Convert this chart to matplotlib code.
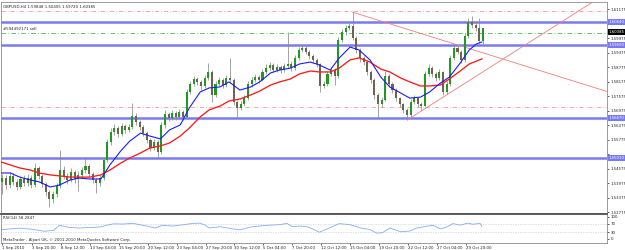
import matplotlib
matplotlib.use("Agg")
import matplotlib.pyplot as plt
from matplotlib.transforms import blended_transform_factory
import numpy as np

# ---------------- data (GBPUSD H4, drawn as 2-bar candles) ----------------
open_ = [1.5402, 1.5418, 1.5389, 1.5427, 1.5402, 1.5381, 1.5414, 1.5398, 1.5418, 1.5389,
         1.5460, 1.5427, 1.5393, 1.5360, 1.5331, 1.5352, 1.5385, 1.5451, 1.5427, 1.5410,
         1.5443, 1.5414, 1.5431, 1.5451, 1.5468, 1.5435, 1.5410, 1.5398, 1.5418, 1.5493,
         1.5567, 1.5609, 1.5625, 1.5600, 1.5633, 1.5617, 1.5629, 1.5675, 1.5650, 1.5629,
         1.5604, 1.5576, 1.5542, 1.5567, 1.5526, 1.5638, 1.5683, 1.5667, 1.5687, 1.5671,
         1.5691, 1.5671, 1.5774, 1.5807, 1.5828, 1.5816, 1.5799, 1.5832, 1.5857, 1.5762,
         1.5807, 1.5824, 1.5803, 1.5832, 1.5824, 1.5733, 1.5708, 1.5724, 1.5749, 1.5807,
         1.5824, 1.5836, 1.5824, 1.5857, 1.5873, 1.5886, 1.5865, 1.5878, 1.5865, 1.5882,
         1.5890, 1.5873, 1.5915, 1.5948, 1.5956, 1.5940, 1.5923, 1.5907, 1.5890, 1.5799,
         1.5807, 1.5849, 1.5865, 1.5840, 1.5989, 1.6022, 1.6039, 1.6047, 1.5998, 1.5948,
         1.5915, 1.5898, 1.5857, 1.5824, 1.5762, 1.5724, 1.5741, 1.5840, 1.5807, 1.5782,
         1.5749, 1.5724, 1.5700, 1.5679, 1.5733, 1.5749, 1.5724, 1.5716, 1.5849, 1.5873,
         1.5849, 1.5832, 1.5857, 1.5774, 1.5807, 1.5915, 1.5956, 1.5940, 1.5907, 1.6006,
         1.6064, 1.6051, 1.6039, 1.59848]
high_ = [1.5436, 1.5431, 1.5445, 1.5440, 1.5415, 1.5428, 1.5431, 1.5433, 1.5430, 1.5479,
         1.5468, 1.5436, 1.5402, 1.5368, 1.5364, 1.5397, 1.5534, 1.5466, 1.5440, 1.5458,
         1.5452, 1.5446, 1.5464, 1.5501, 1.5475, 1.5443, 1.5418, 1.5431, 1.5505, 1.5580,
         1.5625, 1.5640, 1.5634, 1.5646, 1.5642, 1.5640, 1.5729, 1.5688, 1.5660, 1.5638,
         1.5612, 1.5585, 1.5580, 1.5575, 1.5650, 1.5698, 1.5692, 1.5700, 1.5695, 1.5705,
         1.5698, 1.5788, 1.5820, 1.5842, 1.5836, 1.5822, 1.5845, 1.5894, 1.5864, 1.5818,
         1.5836, 1.5830, 1.5845, 1.5915, 1.5830, 1.5740, 1.5738, 1.5762, 1.5820, 1.5836,
         1.5850, 1.5845, 1.5870, 1.5888, 1.5900, 1.5893, 1.5890, 1.5886, 1.5895, 1.6022,
         1.5902, 1.5928, 1.5960, 1.5970, 1.5965, 1.5948, 1.5930, 1.5915, 1.5896, 1.5820,
         1.5862, 1.5878, 1.5872, 1.6000, 1.6035, 1.6052, 1.6060, 1.6105, 1.6005, 1.5955,
         1.5925, 1.5905, 1.5865, 1.5830, 1.5770, 1.5752, 1.5862, 1.5850, 1.5815, 1.5790,
         1.5755, 1.5730, 1.5706, 1.5745, 1.5762, 1.5755, 1.5732, 1.5862, 1.5890, 1.5880,
         1.5858, 1.5868, 1.5862, 1.5820, 1.5928, 1.5970, 1.5965, 1.5948, 1.6018, 1.6080,
         1.6088, 1.6068, 1.6080, 1.60405]
low_ = [1.5352, 1.5372, 1.5378, 1.5390, 1.5368, 1.5372, 1.5384, 1.5386, 1.5376, 1.5383,
        1.5416, 1.5380, 1.5344, 1.5299, 1.5314, 1.5340, 1.5378, 1.5414, 1.5395, 1.5402,
        1.5398, 1.5365, 1.5420, 1.5440, 1.5424, 1.5396, 1.5356, 1.5385, 1.5410, 1.5484,
        1.5555, 1.5598, 1.5588, 1.5592, 1.5605, 1.5608, 1.5620, 1.5638, 1.5617, 1.5590,
        1.5562, 1.5530, 1.5535, 1.5505, 1.5518, 1.5625, 1.5655, 1.5660, 1.5658, 1.5663,
        1.5660, 1.5665, 1.5765, 1.5798, 1.5804, 1.5784, 1.5792, 1.5825, 1.5733, 1.5752,
        1.5798, 1.5790, 1.5796, 1.5815, 1.5720, 1.5671, 1.5700, 1.5716, 1.5742, 1.5795,
        1.5815, 1.5812, 1.5818, 1.5848, 1.5866, 1.5855, 1.5858, 1.5852, 1.5858, 1.5872,
        1.5860, 1.5866, 1.5908, 1.5940, 1.5930, 1.5912, 1.5895, 1.5878, 1.5775, 1.5790,
        1.5800, 1.5840, 1.5805, 1.5832, 1.5980, 1.6010, 1.6030, 1.5990, 1.5935, 1.5900,
        1.5885, 1.5845, 1.5810, 1.5745, 1.5667, 1.5712, 1.5735, 1.5795, 1.5770, 1.5738,
        1.5712, 1.5688, 1.5658, 1.5672, 1.5725, 1.5712, 1.5700, 1.5710, 1.5840, 1.5838,
        1.5820, 1.5825, 1.5760, 1.5765, 1.5800, 1.5905, 1.5930, 1.5894, 1.5900, 1.5998,
        1.6040, 1.6028, 1.5975, 1.59720]
close_ = [1.5418, 1.5389, 1.5427, 1.5402, 1.5381, 1.5414, 1.5398, 1.5418, 1.5389, 1.5460,
          1.5427, 1.5393, 1.5360, 1.5331, 1.5352, 1.5385, 1.5451, 1.5427, 1.5410, 1.5443,
          1.5414, 1.5431, 1.5451, 1.5468, 1.5435, 1.5410, 1.5398, 1.5418, 1.5493, 1.5567,
          1.5609, 1.5625, 1.5600, 1.5633, 1.5617, 1.5629, 1.5675, 1.5650, 1.5629, 1.5604,
          1.5576, 1.5542, 1.5567, 1.5526, 1.5638, 1.5683, 1.5667, 1.5687, 1.5671, 1.5691,
          1.5671, 1.5774, 1.5807, 1.5828, 1.5816, 1.5799, 1.5832, 1.5857, 1.5762, 1.5807,
          1.5824, 1.5803, 1.5832, 1.5824, 1.5733, 1.5708, 1.5724, 1.5749, 1.5807, 1.5824,
          1.5836, 1.5824, 1.5857, 1.5873, 1.5886, 1.5865, 1.5878, 1.5865, 1.5882, 1.5890,
          1.5873, 1.5915, 1.5948, 1.5956, 1.5940, 1.5923, 1.5907, 1.5890, 1.5799, 1.5807,
          1.5849, 1.5865, 1.5840, 1.5989, 1.6022, 1.6039, 1.6047, 1.5998, 1.5948, 1.5915,
          1.5898, 1.5857, 1.5824, 1.5762, 1.5724, 1.5741, 1.5840, 1.5807, 1.5782, 1.5749,
          1.5724, 1.5700, 1.5679, 1.5733, 1.5749, 1.5724, 1.5716, 1.5849, 1.5873, 1.5849,
          1.5832, 1.5857, 1.5774, 1.5807, 1.5915, 1.5956, 1.5940, 1.5907, 1.6006, 1.6064,
          1.6051, 1.6039, 1.5985, 1.60385]

# moving averages (H4 bar index -> price)
ma_idx = [0, 5, 10, 16, 21, 27, 32, 38, 43, 49, 55, 60, 66, 71, 77, 82, 88, 93, 99, 104,
          110, 115, 121, 126, 132, 138, 143, 149, 154, 160, 165, 171, 176, 182, 187, 193, 198,
          204, 210, 215, 221, 226, 232, 237, 243, 248, 254, 259, 263, 266]
ma_fast = [1.5439, 1.5439, 1.5422, 1.5410, 1.5402, 1.5381, 1.5389, 1.5410, 1.5418, 1.5414,
           1.5414, 1.5472, 1.5530, 1.5571, 1.5604, 1.5592, 1.5580, 1.5617, 1.5638, 1.5708,
           1.5774, 1.5791, 1.5795, 1.5816, 1.5782, 1.5795, 1.5816, 1.5853, 1.5865, 1.5873,
           1.5890, 1.5898, 1.5886, 1.5865, 1.5915, 1.5960, 1.5948, 1.5907, 1.5836, 1.5795,
           1.5770, 1.5749, 1.5753, 1.5774, 1.5811, 1.5836, 1.5894, 1.5948, 1.5973, 1.5981]
ma_slow = [1.5484, 1.5472, 1.5460, 1.5451, 1.5439, 1.5431, 1.5427, 1.5422, 1.5422, 1.5422,
           1.5431, 1.5451, 1.5480, 1.5501, 1.5522, 1.5542, 1.5551, 1.5563, 1.5592, 1.5625,
           1.5671, 1.5700, 1.5716, 1.5737, 1.5745, 1.5762, 1.5778, 1.5803, 1.5816, 1.5828,
           1.5849, 1.5861, 1.5857, 1.5857, 1.5873, 1.5907, 1.5915, 1.5898, 1.5869, 1.5857,
           1.5832, 1.5816, 1.5799, 1.5799, 1.5803, 1.5828, 1.5861, 1.5890, 1.5902, 1.5911]

# RSI(14)
rsi_idx = [0, 5, 10, 16, 24, 29, 32, 38, 43, 49, 55, 58, 62, 67, 73, 77, 81, 85, 89, 95,
           100, 106, 110, 113, 115, 121, 128, 132, 139, 147, 154, 158, 161, 165, 169, 171,
           176, 182, 187, 193, 199, 204, 208, 211, 215, 221, 226, 230, 236, 239, 243, 247,
           250, 254, 258, 261, 265, 266]
rsi_val = [42, 46, 49, 45, 35, 40, 62, 52, 50, 52, 55, 62, 69, 68, 71, 64, 58, 50, 62, 59,
           64, 71, 72, 62, 50, 56, 46, 42, 56, 62, 65, 71, 56, 59, 56, 50, 31, 52, 70, 65,
           50, 43, 26, 29, 50, 33, 36, 50, 59, 62, 46, 56, 70, 63, 72, 67, 71, 58]

# objects on chart
hlines_blue = [1.6064, 1.5969, 1.5667, 1.5501]
hlines_red = [1.6109, 1.5712]
order_price = 1.6020
current_price = 1.6023
trend_down = [(194.1, 1.6105), (320.3, 1.5811)]
trend_up = [(225.0, 1.5660), (320.3, 1.6113)]

price_ticks = [1.52775, 1.53375, 1.53975, 1.54575, 1.55175, 1.55775, 1.56375, 1.56975,
               1.57575, 1.58175, 1.58775, 1.59375, 1.59975, 1.60575, 1.61175]
time_idx = [0, 17, 33, 49, 65, 81, 97, 113, 129, 145, 161, 177, 193, 209, 225, 241, 257]
time_labels = ["1 Sep 2010", "3 Sep 20:00", "8 Sep 12:00", "13 Sep 04:00", "15 Sep 20:00",
               "20 Sep 12:00", "23 Sep 04:00", "27 Sep 20:00", "30 Sep 12:00", "5 Oct 04:00",
               "7 Oct 20:00", "12 Oct 12:00", "15 Oct 04:00", "19 Oct 20:00", "22 Oct 12:00",
               "27 Oct 04:00", "29 Oct 20:00"]
header = "GBPUSD,H4 1.59848 1.60405 1.59720 1.60385"

# ---------------- drawing ----------------
W, H = 625, 250
fig = plt.figure(figsize=(W / 100, H / 100), dpi=100)
fig.patch.set_facecolor("white")
FS = 2.8


def px_axes(x0, y0, x1, y1):
    return fig.add_axes([x0 / W, 1 - y1 / H, (x1 - x0) / W, (y1 - y0) / H])


ax = px_axes(1, 2, 607, 213)
rax = px_axes(1, 214, 607, 243)
xmin, xmax = (1 - 1.5) / 1.806, (607 - 1.5) / 1.806
for a in (ax, rax):
    a.set_xlim(xmin, xmax)
    a.set_facecolor("white")
    for s in a.spines.values():
        s.set_color("#8c8c8c")
        s.set_linewidth(0.6)
ax.set_ylim(1.52734, 1.61465)
rax.set_ylim(-18.2, 113.6)
rax.spines["top"].set_color("#505050")
rax.spines["top"].set_linewidth(1.3)

o = np.array(open_); h = np.array(high_); l = np.array(low_); c = np.array(close_)
x = np.arange(len(o)) * 2 + 0.5
bull = c >= o
ax.vlines(x, l, h, color="#8a8a8a", lw=0.55, zorder=3)
body_lo = np.minimum(o, c)
body_h = np.maximum(np.abs(c - o), 0.00015)
ax.bar(x[bull], body_h[bull], bottom=body_lo[bull], width=1.15, color="#1f9a1f", lw=0, zorder=4)
ax.bar(x[~bull], body_h[~bull], bottom=body_lo[~bull], width=1.15, color="#6e6350", lw=0, zorder=4)

ax.plot(ma_idx, ma_slow, color="#ff1a1a", lw=0.95, zorder=5)
ax.plot(ma_idx, ma_fast, color="#1a1aff", lw=0.8, zorder=5)

for lv in hlines_blue:
    ax.axhline(lv, color="#7a7af0", lw=1.8, zorder=2)
for lv in hlines_red:
    ax.axhline(lv, color="#f08a8a", lw=0.5, ls=(0, (6, 3, 1, 3)), zorder=2)
ax.axhline(order_price, color="#3cb43c", lw=0.55, ls=(0, (6, 3, 1, 3)), zorder=2)

for (i1, p1), (i2, p2) in (trend_down, trend_up):
    p_end = p1 + (p2 - p1) * (xmax + 5 - i1) / (i2 - i1)
    ax.plot([i1, xmax + 5], [p1, p_end], color="#f07f7f", lw=0.6, zorder=2)

# price scale: hide grid labels that sit under an object's price label
marked = hlines_blue + [current_price]
px_per_price = 211 / (1.61465 - 1.52734)
tick_txt = []
for v in price_ticks:
    near = min(abs(v - m) for m in marked) * px_per_price
    tick_txt.append("" if near < 5 else f"{v:.5f}")
ax.set_xticks([])
ax.yaxis.tick_right()
ax.set_yticks(price_ticks)
ax.set_yticklabels(tick_txt, fontsize=FS)
ax.tick_params(axis="y", length=1.5, width=0.5, pad=1, colors="#222222")

tr = blended_transform_factory(ax.transAxes, ax.transData)
for lv in hlines_blue:
    ax.text(1.003, lv, f"{lv:.5f}", transform=tr, fontsize=FS, color="white", va="center",
            ha="left", bbox=dict(boxstyle="square,pad=0.25", fc="#7a7af0", ec="none"), zorder=6,
            clip_on=False)
ax.text(1.003, current_price, "1.60385", transform=tr, fontsize=FS, color="white", va="center",
        ha="left", bbox=dict(boxstyle="square,pad=0.25", fc="black", ec="none"), zorder=7,
        clip_on=False)

ax.text(0.004, 0.988, header, transform=ax.transAxes, fontsize=FS, va="top", ha="left", color="#222222")
ax.text(0.004, order_price + 0.0005, "#594492171 sell", transform=tr, fontsize=FS, va="bottom",
        ha="left", color="#222222")

# RSI panel
rax.plot(rsi_idx, rsi_val, color="#7fb0f5", lw=0.6)
for lv in (70, 30):
    rax.axhline(lv, color="#a0a0a0", lw=0.4, ls=(0, (1, 2)))
rax.yaxis.tick_right()
rax.set_yticks([0, 30, 70, 100])
rax.set_yticklabels(["0", "30", "70", "100"], fontsize=FS)
rax.tick_params(axis="y", length=1.5, width=0.5, pad=1, colors="#222222")
rax.set_xticks(time_idx)
rax.set_xticklabels(time_labels, fontsize=FS, ha="left")
rax.tick_params(axis="x", length=1.5, width=0.5, pad=1, colors="#222222")
rax.text(0.004, 0.93, "RSI(14) 58.2847", transform=rax.transAxes, fontsize=FS, va="top", ha="left",
         color="#222222")
rax.text(0.004, 0.04, "MetaTrader - Alpari UK, \u00a9 2001-2010 MetaQuotes Software Corp.",
         transform=rax.transAxes, fontsize=FS, va="bottom", ha="left", color="#222222")

fig.savefig("out.png", dpi=100, facecolor="white")
